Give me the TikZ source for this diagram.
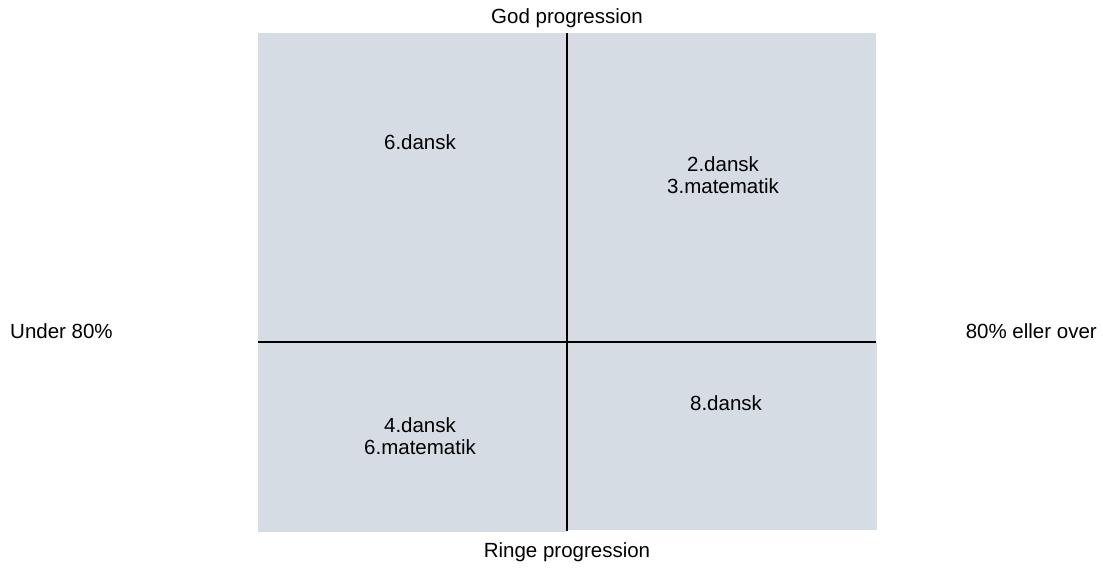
\documentclass[tikz,border=0pt]{standalone}
\usepackage{fontspec}
\setmainfont{Liberation Sans}
\definecolor{quad}{HTML}{D5DCE4}
\begin{document}
\begin{tikzpicture}[x=1pt,y=-1pt,
  lbl/.style={font=\fontsize{20.5}{22}\selectfont, inner sep=0pt, align=center, text=black},
  quadbox/.style={fill=quad, draw=none},
  axis/.style={draw=black, line width=1.3pt}]
\useasboundingbox (0,0) rectangle (1103,569);
% quadrants
\fill[quadbox] (258,33) rectangle (567,342);
\fill[quadbox] (567,33) rectangle (876,342);
\fill[quadbox] (258,342) rectangle (567,532);
\fill[quadbox] (567,342) rectangle (877,530);
% axes
\coordinate (vt) at (567,33);
\coordinate (vb) at (567,531);
\coordinate (hl) at (258,342);
\coordinate (hr) at (876,342);
\draw[axis] (vt) -- (vb);
\draw[axis] (hl) -- (hr);
% axis labels
\node[lbl] (top) at (567,18) {God progression};
\node[lbl] (bot) at (567,552) {Ringe progression};
\node[lbl, anchor=west] (left) at (10,331) {Under 80\%};
\node[lbl, anchor=east] (right) at (1097,331) {80\% eller over};
% quadrant labels
\node[lbl] (tl) at (420,142) {6.dansk};
\node[lbl] (tr) at (723,175) {2.dansk\\3.matematik};
\node[lbl] (bl) at (420,436) {4.dansk\\6.matematik};
\node[lbl] (br) at (726,403) {8.dansk};
\end{tikzpicture}
\end{document}
